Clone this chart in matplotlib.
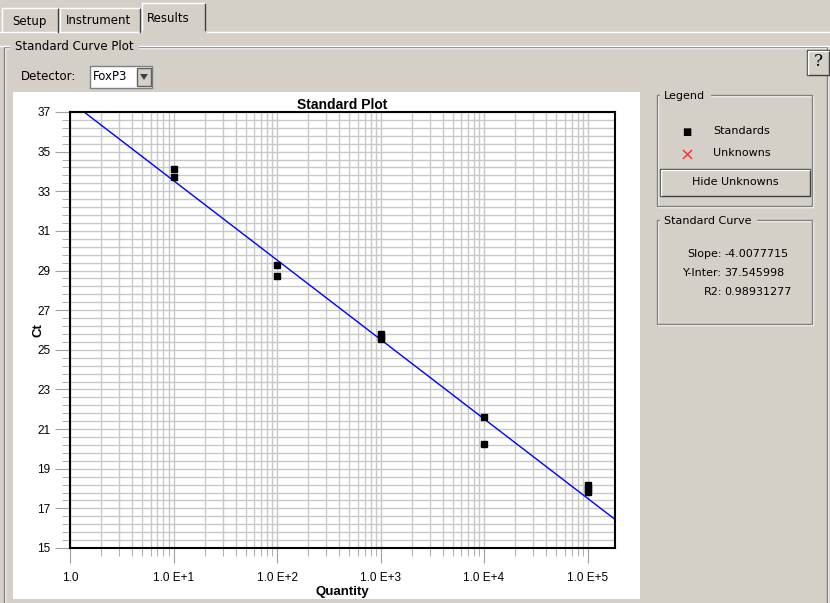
import matplotlib
matplotlib.use('Agg')
import matplotlib.pyplot as plt
import numpy as np
from matplotlib.patches import Rectangle, Polygon
from matplotlib.lines import Line2D
from matplotlib.ticker import FixedLocator, NullFormatter, LogLocator

# standards
quantity = [10, 10, 100, 100, 1000, 1000, 1000, 1e4, 1e4, 1e5, 1e5, 1e5]
ct_values = [34.1, 33.7, 29.3, 28.7, 25.8, 25.65, 25.55, 21.6, 20.25, 18.2, 18.0, 17.85]

slope = -4.0077715
y_inter = 37.545998
r2 = 0.98931277

x_ticks = [1, 10, 100, 1000, 1e4, 1e5]
x_ticklabels = ['1.0', '1.0 E+1', '1.0 E+2', '1.0 E+3', '1.0 E+4', '1.0 E+5']
y_ticks = [15, 17, 19, 21, 23, 25, 27, 29, 31, 33, 35, 37]

W, H = 830, 603
bg = '#d4d0c8'
plt.rcParams['font.family'] = ['Liberation Sans', 'DejaVu Sans']
ui_font = 'DejaVu Sans'

fig = plt.figure(figsize=(W / 100, H / 100), dpi=100, facecolor=bg)


def rect(x0, y0, x1, y1, **kw):
    # pixel box (y from top) -> figure patch
    kw.setdefault('zorder', -1)
    fig.patches.append(Rectangle((x0 / W, 1 - y1 / H), (x1 - x0) / W, (y1 - y0) / H,
                                 transform=fig.transFigure, **kw))


def line(xs, ys, **kw):
    kw.setdefault('zorder', -0.5)
    fig.lines.append(Line2D([x / W for x in xs], [1 - y / H for y in ys],
                            transform=fig.transFigure, **kw))


def text(x, y, s, **kw):
    kw.setdefault('fontsize', 8)
    kw.setdefault('va', 'center')
    kw.setdefault('family', ui_font)
    fig.text(x / W, 1 - y / H, s, **kw)


def etched(x0, y0, x1, y1):
    rect(x0 + 1, y0 + 1, x1 + 1, y1 + 1, fill=False, ec='white', lw=1)
    rect(x0, y0, x1, y1, fill=False, ec='#808080', lw=1)


# tabs
line([0, 830], [32, 32], color='white', lw=1)
line([0, 830], [46, 46], color='white', lw=1)
for x0, x1, y0 in [(2, 59, 8), (60, 141, 8), (142, 206, 3)]:
    rect(x0, y0, x1, 32, fc=bg, ec='none')
    line([x0, x0, x1 - 2], [32, y0, y0], color='white', lw=1)
    line([x1 - 1, x1 - 1], [y0 + 1, 32], color='#404040', lw=1)
line([143, 205], [32, 32], color=bg, lw=2)
text(12, 21, 'Setup', fontsize=8.5)
text(66, 21, 'Instrument', fontsize=8.5)
text(147, 18, 'Results', fontsize=8.5)

# group box
etched(4, 47, 827, 640)
text(15, 47, 'Standard Curve Plot', backgroundcolor=bg, fontsize=8.5)

# help button
rect(807, 50, 829, 75, fc=bg, ec='#404040', lw=1)
line([808, 808, 828], [74, 51, 51], color='white', lw=1)
text(818, 62, '?', ha='center', fontsize=12, family='DejaVu Serif')

# detector combo
text(21, 77, 'Detector:', fontsize=8.5)
rect(90, 66, 152, 88, fc='white', ec='#808080', lw=1)
text(93, 77, 'FoxP3', fontsize=8.5)
rect(137, 68, 151, 86, fc=bg, ec='#606060', lw=1)
fig.patches.append(Polygon([(140 / W, 1 - 74 / H), (148 / W, 1 - 74 / H), (144 / W, 1 - 80 / H)],
                           transform=fig.transFigure, fc='#404040', ec='none', zorder=-0.5))

# white plot panel
rect(13, 92, 640, 599, fc='white', ec='none')

# legend box
etched(657, 95, 812, 206)
text(664, 96, 'Legend', backgroundcolor=bg)
text(687, 132, '\u25a0', ha='center', fontsize=7)
text(713, 131, 'Standards')
text(687, 156, '\u00d7', ha='center', fontsize=13, color='#ff3030')
text(713, 153, 'Unknowns')
rect(660, 169, 810, 196, fc=bg, ec='#404040', lw=1)
line([661, 661, 809], [195, 170, 170], color='white', lw=1)
text(735, 182, 'Hide Unknowns', ha='center')

# standard curve box
etched(657, 220, 812, 324)
text(664, 221, 'Standard Curve', backgroundcolor=bg)
text(722, 254, 'Slope:', ha='right')
text(724, 254, '{:.7f}'.format(slope))
text(722, 273, 'Y-Inter:', ha='right')
text(724, 273, '{:.6f}'.format(y_inter))
text(722, 292, 'R2:', ha='right')
text(724, 292, '{:.8f}'.format(r2))

# the plot itself
ax_l, ax_r, ax_t, ax_b = 70, 615, 112, 548
ax = fig.add_axes([ax_l / W, 1 - ax_b / H, (ax_r - ax_l) / W, (ax_b - ax_t) / H])
ax.set_zorder(5)
ax.set_xscale('log')
xmin, xmax = 1.0, 10 ** 5.265
ax.set_xlim(xmin, xmax)
ax.set_ylim(15, 37)

ax.xaxis.set_major_locator(FixedLocator(x_ticks))
ax.set_xticklabels(x_ticklabels)
ax.xaxis.set_minor_locator(LogLocator(base=10, subs=np.arange(2, 10)))
ax.xaxis.set_minor_formatter(NullFormatter())
ax.set_yticks(y_ticks)
ax.yaxis.set_minor_locator(FixedLocator(np.arange(15, 37.01, 0.4)))

ax.grid(True, which='both', color='#c8c8c8', lw=1)
ax.set_axisbelow(True)
ax.tick_params(which='major', direction='out', length=11, color='#a0a0a0', labelsize=8.5, pad=3)
ax.tick_params(which='minor', direction='out', length=6, color='#a0a0a0')
ax.tick_params(axis='x', pad=6)
for s in ax.spines.values():
    s.set_linewidth(1.5)
    s.set_color('black')

xs = np.array([xmin, xmax])
ax.plot(xs, y_inter + slope * np.log10(xs), color='#0000ff', lw=1)
ax.plot(quantity, ct_values, 's', color='black', ms=4.5, clip_on=False)

ax.set_title('Standard Plot', fontweight='bold', fontsize=10, pad=2)
ax.set_xlabel('Quantity', fontweight='bold', fontsize=9.5)
ax.set_ylabel('Ct', fontweight='bold', fontsize=9.5)
ax.xaxis.set_label_coords(0.5, -0.087)
ax.yaxis.set_label_coords(-0.047, 0.5)

fig.savefig('out.png', dpi=100, facecolor=bg)
